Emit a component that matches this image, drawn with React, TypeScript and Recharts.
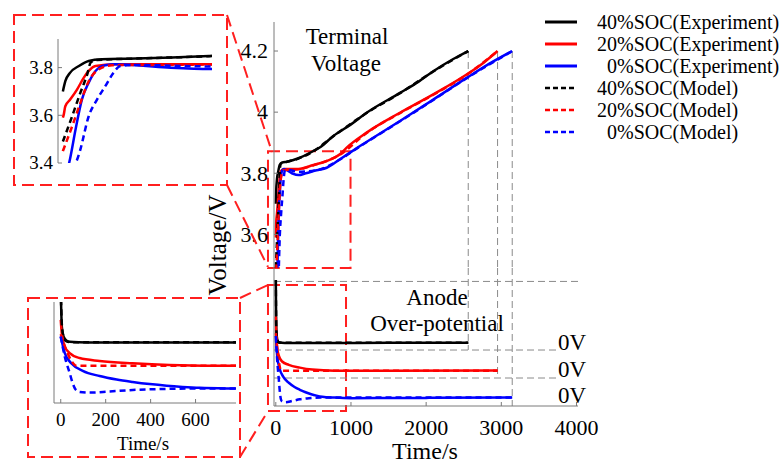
import { LineChart, Line, XAxis, YAxis, ReferenceLine, ReferenceArea } from "recharts";

type Pt = [number, number];

// terminal voltage, [time s, V]
const V40_EXP: Pt[] = [[0, 3.7], [5, 3.743], [15, 3.779], [33, 3.807], [53, 3.828], [80, 3.835], [150, 3.838], [300, 3.849], [500, 3.873], [600, 3.887], [765, 3.922], [1000, 3.96], [1208, 3.998], [1652, 4.063], [1900, 4.1], [2095, 4.134], [2361, 4.174], [2560, 4.2]];
const V20_EXP: Pt[] = [[0, 3.59], [2, 3.605], [5, 3.638], [15, 3.666], [29, 3.708], [43, 3.758], [53, 3.786], [67, 3.807], [108, 3.814], [300, 3.814], [500, 3.827], [677, 3.84], [853, 3.862], [943, 3.884], [1208, 3.933], [1652, 3.998], [2095, 4.058], [2538, 4.123], [2760, 4.161], [2950, 4.2]];
const V0_EXP: Pt[] = [[0, 3.3], [15, 3.42], [26, 3.54], [39, 3.666], [53, 3.737], [67, 3.786], [87, 3.81], [108, 3.814], [214, 3.8], [302, 3.794], [400, 3.8], [543, 3.81], [677, 3.818], [853, 3.846], [1120, 3.889], [1652, 3.971], [2095, 4.041], [2538, 4.112], [2893, 4.166], [3145, 4.2]];
const V40_MOD: Pt[] = [[0, 3.49], [19, 3.596], [36, 3.695], [50, 3.772], [57, 3.821], [70, 3.832], [150, 3.838], [300, 3.848], [500, 3.872], [765, 3.921], [1208, 3.997], [1652, 4.062], [2095, 4.133], [2560, 4.2]];
const V20_MOD: Pt[] = [[0, 3.45], [19, 3.554], [36, 3.652], [53, 3.743], [74, 3.793], [101, 3.81], [300, 3.813], [500, 3.826], [853, 3.861], [1208, 3.932], [1652, 3.997], [2095, 4.057], [2538, 4.122], [2950, 4.2]];
const V0_MOD: Pt[] = [[0, 3.3], [35, 3.45], [53, 3.596], [70, 3.666], [87, 3.722], [104, 3.779], [118, 3.807], [150, 3.811], [300, 3.805], [543, 3.81], [853, 3.845], [1120, 3.888], [1652, 3.97], [2095, 4.04], [2538, 4.111], [3145, 4.2]];

// anode over-potential above each curve's own 0V line, [time s, V]
const A40_EXP: Pt[] = [[0, 0.25], [5, 0.09], [13, 0.049], [25, 0.033], [40, 0.028], [80, 0.026], [160, 0.025], [600, 0.025], [1500, 0.026], [2560, 0.026]];
const A20_EXP: Pt[] = [[0, 0.22], [5, 0.16], [18, 0.107], [40, 0.08], [84, 0.059], [173, 0.047], [320, 0.037], [484, 0.03], [778, 0.026], [1500, 0.026], [2950, 0.027]];
const A0_EXP: Pt[] = [[0, 0.25], [18, 0.18], [49, 0.135], [98, 0.105], [173, 0.083], [249, 0.068], [320, 0.058], [396, 0.049], [471, 0.042], [542, 0.037], [618, 0.033], [778, 0.03], [1000, 0.028], [2000, 0.029], [3145, 0.03]];
const A40_MOD: Pt[] = [[0, 0.25], [5, 0.1], [12, 0.05], [25, 0.03], [50, 0.026], [2560, 0.026]];
const A20_MOD: Pt[] = [[0, 0.16], [27, 0.087], [49, 0.045], [71, 0.026], [2950, 0.026]];
const A0_MOD: Pt[] = [[0, 0.25], [18, 0.165], [40, 0.095], [53, 0.053], [67, 0.025], [84, 0.016], [129, 0.013], [218, 0.018], [320, 0.024], [440, 0.028], [600, 0.03], [3145, 0.03]];

const TIME_TICKS = [0, 1000, 2000, 3000, 4000];
const VOLT_TICKS = [3.6, 3.8, 4.0, 4.2];
const INSET_VOLT_TICKS = [3.4, 3.6, 3.8];
const INSET_TIME_TICKS = [0, 200, 400, 600];
const END_TIME: Record<number, number> = { 40: 2560, 20: 2950, 0: 3145 };

const FONT = "'Liberation Serif', 'Times New Roman', serif";
const AXIS = "#7a7a7a";
const GUIDE = "#8a8a8a";
const ZOOM = "#ff1f1f";
const COLORS: Record<number, string> = { 40: "#000000", 20: "#ff0000", 0: "#0000ff" };
// vertical stacking of the over-potential curves in the lower panel
const ANODE_OFFSET: Record<number, number> = { 40: 0.2, 20: 0.1, 0: 0 };

const SERIES = [
  { soc: 40, kind: "Experiment", volt: V40_EXP, anode: A40_EXP },
  { soc: 20, kind: "Experiment", volt: V20_EXP, anode: A20_EXP },
  { soc: 0, kind: "Experiment", volt: V0_EXP, anode: A0_EXP },
  { soc: 40, kind: "Model", volt: V40_MOD, anode: A40_MOD },
  { soc: 20, kind: "Model", volt: V20_MOD, anode: A20_MOD },
  { soc: 0, kind: "Model", volt: V0_MOD, anode: A0_MOD },
];

const toVolt = (arr: Pt[]) => arr.map(([t, v]) => ({ t, v }));
const toAnode = (arr: Pt[], soc: number) => arr.map(([t, v]) => ({ t, v: v + ANODE_OFFSET[soc] }));
const fmt = (v: number) => String(Number(v.toFixed(1)));

function YTick(props: any) {
  const { x, y, payload, fs, gap } = props;
  const ax = x + gap;
  return (
    <g>
      <line x1={ax} x2={ax + 4} y1={y} y2={y} stroke={AXIS} />
      <text x={x} y={y + fs * 0.33} textAnchor="end" fontSize={fs} fontFamily={FONT} fill="#000">
        {fmt(payload.value)}
      </text>
    </g>
  );
}

function XTick(props: any) {
  const { x, y, payload, fs, base } = props;
  return (
    <g>
      <line x1={x} x2={x} y1={y} y2={y - 4} stroke={AXIS} />
      <text x={x} y={y + base} textAnchor="middle" fontSize={fs} fontFamily={FONT} fill="#000">
        {payload.value}
      </text>
    </g>
  );
}

function lines(kind: "volt" | "anode") {
  return SERIES.map((s) => (
    <Line
      key={`${kind}-${s.soc}-${s.kind}`}
      data={kind === "volt" ? toVolt(s.volt) : toAnode(s.anode, s.soc)}
      dataKey="v"
      type="monotone"
      stroke={COLORS[s.soc]}
      strokeWidth={2.5}
      strokeDasharray={s.kind === "Model" ? "6 4" : undefined}
      dot={false}
      isAnimationActive={false}
    />
  ));
}

const MAIN_X_DOMAIN: [number, number] = [-24, 4020];

export default function App() {
  return (
    <div style={{ position: "absolute", left: 0, top: 0, width: 784, height: 464, background: "#fff", overflow: "hidden" }}>
      {/* main: terminal voltage */}
      <div style={{ position: "absolute", left: 200, top: 0 }}>
        <LineChart width={400} height={272} margin={{ top: 22, right: 22, bottom: 4, left: 0 }}>
          <XAxis dataKey="t" type="number" domain={MAIN_X_DOMAIN} allowDataOverflow hide />
          <YAxis
            type="number"
            domain={[3.49, 4.295]}
            allowDataOverflow
            ticks={VOLT_TICKS}
            width={74}
            tickSize={0}
            tickMargin={6}
            tickLine={false}
            axisLine={{ stroke: AXIS }}
            tick={(p: any) => <YTick {...p} fs={22} gap={6} />}
          />
          {SERIES.filter((s) => s.kind === "Experiment").map((s) => (
            <ReferenceLine
              key={`vv-${s.soc}`}
              segment={[{ x: END_TIME[s.soc], y: 4.2 }, { x: END_TIME[s.soc], y: 3.49 }]}
              stroke={GUIDE}
              strokeDasharray="7 4"
            />
          ))}
          {lines("volt")}
          <ReferenceArea x1={-104} x2={994} y1={3.49} y2={3.872} fill="none" stroke={ZOOM} strokeWidth={2} strokeDasharray="12 6" ifOverflow="visible" />
        </LineChart>
      </div>

      {/* main: anode over-potential */}
      <div style={{ position: "absolute", left: 200, top: 268 }}>
        <LineChart width={400} height={196} margin={{ top: 0, right: 22, bottom: 0, left: 0 }}>
          <XAxis
            dataKey="t"
            type="number"
            domain={MAIN_X_DOMAIN}
            allowDataOverflow
            ticks={TIME_TICKS}
            interval={0}
            height={58}
            tickSize={0}
            tickMargin={0}
            tickLine={false}
            axisLine={{ stroke: AXIS }}
            tick={(p: any) => <XTick {...p} fs={22} base={29} />}
          />
          <YAxis type="number" domain={[0, 0.493]} allowDataOverflow width={74} tick={false} tickLine={false} axisLine={{ stroke: AXIS }} />
          <ReferenceLine segment={[{ x: MAIN_X_DOMAIN[0], y: 0.445 }, { x: MAIN_X_DOMAIN[1], y: 0.445 }]} stroke={GUIDE} strokeDasharray="7 4" />
          {[40, 20].map((soc) => (
            <ReferenceLine
              key={`zero-${soc}`}
              segment={[{ x: MAIN_X_DOMAIN[0], y: ANODE_OFFSET[soc] }, { x: 3740, y: ANODE_OFFSET[soc] }]}
              stroke={GUIDE}
              strokeDasharray="7 4"
            />
          ))}
          {[40, 20, 0].map((soc) => (
            <ReferenceLine
              key={`av-${soc}`}
              segment={[{ x: END_TIME[soc], y: 0.493 }, { x: END_TIME[soc], y: ANODE_OFFSET[soc] }]}
              stroke={GUIDE}
              strokeDasharray="7 4"
            />
          ))}
          {lines("anode")}
          <ReferenceArea x1={-104} x2={934} y1={-0.018} y2={0.432} fill="none" stroke={ZOOM} strokeWidth={2} strokeDasharray="12 6" ifOverflow="visible" />
        </LineChart>
      </div>

      {/* inset: voltage, first seconds */}
      <div style={{ position: "absolute", left: 0, top: 0 }}>
        <LineChart width={230} height={180} margin={{ top: 39, right: 18, bottom: 17, left: 0 }}>
          <XAxis dataKey="t" type="number" domain={[-10, 306]} allowDataOverflow hide />
          <YAxis
            type="number"
            domain={[3.4, 3.92]}
            allowDataOverflow
            ticks={INSET_VOLT_TICKS}
            width={58}
            tickSize={0}
            tickMargin={5}
            tickLine={false}
            axisLine={{ stroke: AXIS }}
            tick={(p: any) => <YTick {...p} fs={19} gap={5} />}
          />
          {lines("volt")}
        </LineChart>
      </div>

      {/* inset: over-potential, first 800 s */}
      <div style={{ position: "absolute", left: 0, top: 290 }}>
        <LineChart width={260} height={174} margin={{ top: 12, right: 24, bottom: 0, left: 0 }}>
          <XAxis
            dataKey="t"
            type="number"
            domain={[-30, 780]}
            allowDataOverflow
            ticks={INSET_TIME_TICKS}
            interval={0}
            height={61}
            tickSize={0}
            tickMargin={0}
            tickLine={false}
            axisLine={{ stroke: AXIS }}
            tick={(p: any) => <XTick {...p} fs={19} base={23} />}
          />
          <YAxis type="number" domain={[-0.031, 0.396]} allowDataOverflow width={54} tick={false} tickLine={false} axisLine={{ stroke: AXIS }} />
          {lines("anode")}
        </LineChart>
      </div>

      <svg width={784} height={464} style={{ position: "absolute", left: 0, top: 0, pointerEvents: "none" }} fontFamily={FONT}>
        <g fill="none" stroke={ZOOM} strokeWidth={2} strokeDasharray="12 6">
          <rect x={14} y={15} width={213} height={170} />
          <rect x={28} y={298} width={212} height={159} />
          <line x1={227} y1={15} x2={272} y2={152} />
          <line x1={227} y1={185} x2={268} y2={267} />
          <line x1={240} y1={298} x2={268} y2={285} />
          <line x1={240} y1={457} x2={268} y2={411} />
        </g>

        <text x={347} y={44} textAnchor="middle" fontSize={23}>Terminal</text>
        <text x={346} y={71} textAnchor="middle" fontSize={23}>Voltage</text>
        <text x={437} y={305} textAnchor="middle" fontSize={23}>Anode</text>
        <text x={437} y={331} textAnchor="middle" fontSize={23}>Over-potential</text>
        {[350, 377, 403].map((y) => (
          <text key={y} x={558} y={y} fontSize={23}>0V</text>
        ))}
        <text x={425} y={459} textAnchor="middle" fontSize={24}>Time/s</text>
        <text x={143} y={450} textAnchor="middle" fontSize={19}>Time/s</text>
        <text x={226} y={245} textAnchor="middle" fontSize={25} transform="rotate(-90 226 245)">Voltage/V</text>

        {SERIES.map((s, i) => {
          const y = 22 + i * 22;
          return (
            <g key={`lg-${i}`}>
              <line
                x1={545}
                x2={577}
                y1={y}
                y2={y}
                stroke={COLORS[s.soc]}
                strokeWidth={s.kind === "Model" ? 2.5 : 3}
                strokeDasharray={s.kind === "Model" ? "5 3" : undefined}
              />
              <text x={s.soc < 10 ? 607 : 597} y={y + 7} fontSize={20}>
                {`${s.soc}%SOC(${s.kind})`}
              </text>
            </g>
          );
        })}
      </svg>
    </div>
  );
}
